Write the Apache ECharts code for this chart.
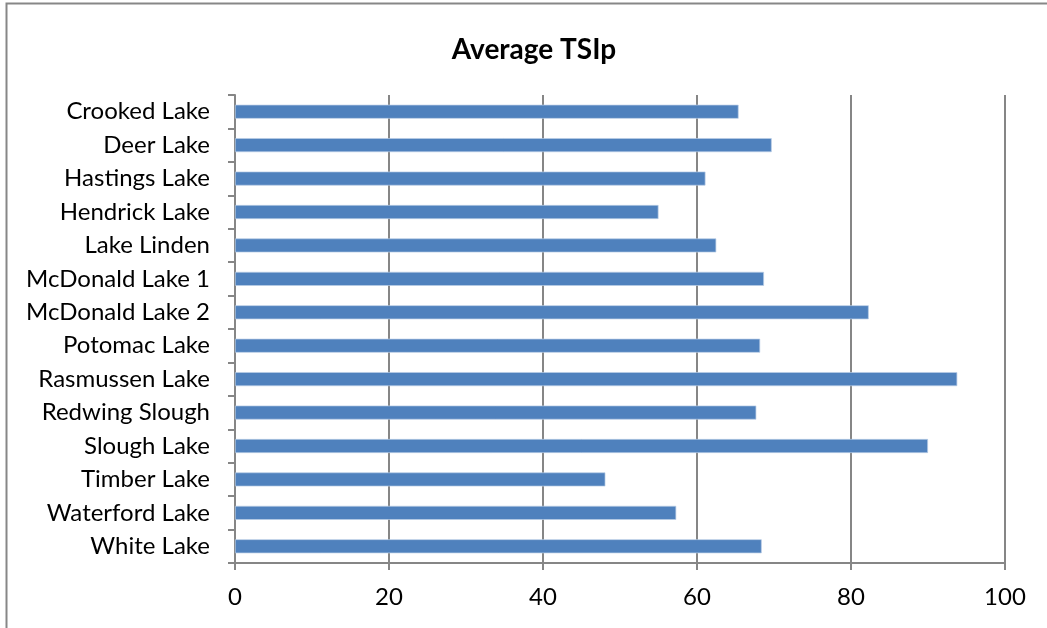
<!DOCTYPE html>
<html>
<head>
<meta charset="utf-8">
<script src="https://cdn.jsdelivr.net/npm/echarts@6/dist/echarts.min.js"></script>
<style>
html,body{margin:0;padding:0;background:#fff;}
#chart{width:1047px;height:628px;}
</style>
</head>
<body>
<div id="chart"></div>
<script>
const titleText = "Average TSIp";
const lakes = ["Crooked Lake","Deer Lake","Hastings Lake","Hendrick Lake","Lake Linden","McDonald Lake 1","McDonald Lake 2","Potomac Lake","Rasmussen Lake","Redwing Slough","Slough Lake","Timber Lake","Waterford Lake","White Lake"];
const tsip = [65.4,69.7,61.1,55.0,62.5,68.7,82.3,68.2,93.8,67.7,90.0,48.1,57.3,68.4];
const xTicks = [0,20,40,60,80,100];

const chart = echarts.init(document.getElementById('chart'), null, {renderer:'canvas'});
const font = 'Lato, "Open Sans", sans-serif';
chart.setOption({
  animation:false,
  backgroundColor:'#fff',
  title:{text:titleText,left:529,top:31,textAlign:'center',
    textStyle:{fontFamily:font,fontSize:28,fontWeight:'bold',color:'#000'}},
  graphic:[{type:'rect',shape:{x:6.5,y:3.5,width:1100,height:700},
    style:{fill:'none',stroke:'#878787',lineWidth:2},silent:true}],
  grid:{left:235,right:42,top:95,bottom:65,containLabel:false},
  xAxis:{type:'value',min:xTicks[0],max:xTicks[xTicks.length-1],interval:20,
    axisLine:{show:true,lineStyle:{color:'#868686',width:2}},
    axisTick:{show:true,length:7,lineStyle:{color:'#868686',width:2}},
    splitLine:{show:true,lineStyle:{color:'#868686',width:2}},
    axisLabel:{fontFamily:font,fontSize:24,color:'#000',margin:22}},
  yAxis:{type:'category',data:lakes,inverse:true,
    axisLine:{show:true,lineStyle:{color:'#868686',width:2}},
    axisTick:{show:true,length:7,inside:false,lineStyle:{color:'#868686',width:2}},
    axisLabel:{fontFamily:font,fontSize:24,color:'#000',margin:25}},
  series:[{type:'bar',data:tsip,barWidth:14,
    itemStyle:{color:'#4F81BD',borderColor:'#b9cde5',borderWidth:0.7}}]
});
</script>
</body>
</html>
